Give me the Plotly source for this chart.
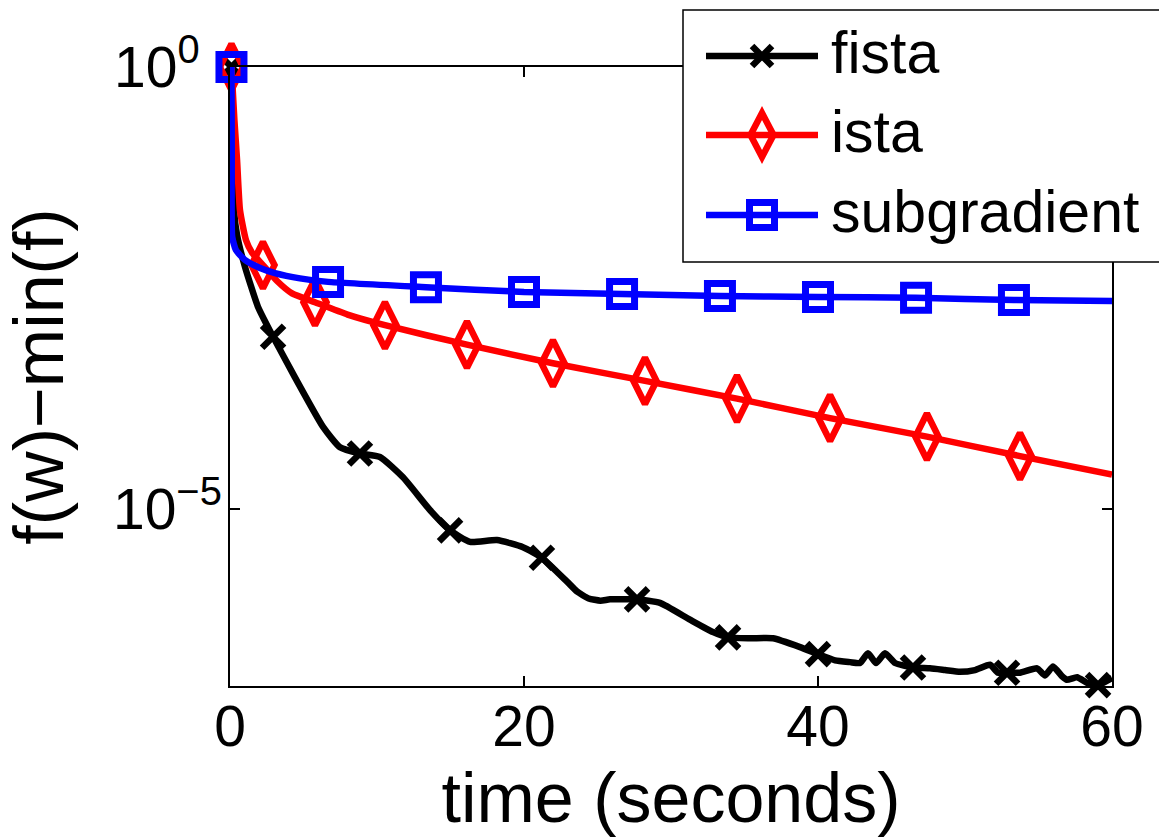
import numpy as np
import plotly.graph_objects as go

# ---------------- data (time in seconds, values as log10 of f(w)-min(f)) ----------------
fista_t = [0.1, 0.2, 0.27, 0.48, 1.02, 1.90, 2.93, 4.42, 6.33, 7.48, 8.84, 10.2, 11.77, 13.6,
           14.97, 16.33, 18.16, 19.93, 21.22, 22.93, 23.6, 24.4, 25.2, 25.85, 27.69, 29.25,
           31.29, 32.86, 33.88, 35.37, 36.94, 38.78, 40.0, 41.16, 42.18, 42.86, 43.40, 43.95,
           44.56, 45.24, 46.46, 47.62, 48.64, 49.66, 50.68, 51.70, 52.24, 52.86, 53.74, 54.90,
           55.44, 55.99, 56.60, 56.94, 57.62, 58.37, 59.05, 60.0]
fista_log = [0.0, -1.0, -1.62, -1.90, -2.26, -2.71, -3.05, -3.51, -4.07, -4.30, -4.37, -4.41,
             -4.64, -5.01, -5.24, -5.37, -5.35, -5.43, -5.55, -5.82, -5.93, -6.01, -6.035, -6.02,
             -6.02, -6.06, -6.25, -6.39, -6.45, -6.46, -6.46, -6.56, -6.64, -6.71, -6.73, -6.74,
             -6.63, -6.74, -6.63, -6.74, -6.79, -6.80, -6.82, -6.84, -6.82, -6.76, -6.85, -6.85,
             -6.85, -6.80, -6.88, -6.78, -6.89, -6.93, -6.90, -6.97, -6.99, -6.91]
fista_mark_t = [0.1, 2.93, 8.84, 14.97, 21.22, 27.69, 33.88, 40.0, 46.46, 52.86, 59.05]
fista_mark_log = [0.0, -3.05, -4.37, -5.24, -5.55, -6.02, -6.45, -6.64, -6.79, -6.85, -6.99]

ista_t = [0.1, 0.3, 0.48, 0.68, 1.09, 1.5, 2.24, 3.2, 4.22, 5.78, 8.0, 10.54, 16.12, 21.97,
          28.23, 34.49, 40.82, 47.41, 53.74, 60.0]
ista_log = [0.0, -0.6, -1.05, -1.62, -1.96, -2.10, -2.24, -2.42, -2.56, -2.66, -2.80, -2.92,
            -3.14, -3.35, -3.55, -3.75, -3.97, -4.18, -4.40, -4.61]
ista_mark_t = [0.1, 2.24, 5.78, 10.54, 16.12, 21.97, 28.23, 34.49, 40.82, 47.41, 53.74]
ista_mark_log = [0.0, -2.24, -2.66, -2.92, -3.14, -3.35, -3.55, -3.75, -3.97, -4.18, -4.40]

sub_t = [0.1, 0.12, 0.15, 0.4, 1.0, 2.0, 3.06, 4.76, 6.67, 13.33, 20.0, 26.67, 33.33, 40.0,
         46.67, 53.33, 60.0]
sub_log = [0.0, -1.0, -1.92, -2.07, -2.18, -2.27, -2.33, -2.39, -2.43, -2.49, -2.544, -2.567,
           -2.59, -2.60, -2.61, -2.635, -2.646]
sub_mark_t = [0.1, 6.67, 13.33, 20.0, 26.67, 33.33, 40.0, 46.67, 53.33]
sub_mark_log = [0.0, -2.43, -2.49, -2.544, -2.567, -2.59, -2.60, -2.61, -2.635]

series_names = ["fista", "ista", "subgradient"]
x_tick_vals = [0, 20, 40, 60]
y_tick_vals = [1.0, 1e-5]
y_tick_text = ["10<sup>0\u00a0\u00a0</sup>", "10<sup>\u22125</sup>"]
x_title = "time (seconds)"
y_title = "f(w)\u2212min(f)"

# ---------------- figure ----------------
FONT = "Liberation Sans, Arial, Helvetica, sans-serif"
BLACK, RED, BLUE = "#000000", "#ff0000", "#0000ff"
W, H = 1159, 837
ML, MR, MT, MB = 230, 47, 67, 151
LW = 6.5

fig = go.Figure()

def pw(v):
    return 10 ** np.array(v, dtype=float)

fig.add_trace(go.Scatter(x=fista_t, y=pw(fista_log), mode="lines", name=series_names[0],
                         line=dict(color=BLACK, width=LW, shape="spline", smoothing=0.5),
                         showlegend=False, cliponaxis=False))
fig.add_trace(go.Scatter(x=fista_mark_t, y=pw(fista_mark_log), mode="markers", name=series_names[0],
                         marker=dict(symbol="x-thin", size=22, line=dict(color=BLACK, width=6.5)),
                         showlegend=False, cliponaxis=False))
fig.add_trace(go.Scatter(x=ista_t, y=pw(ista_log), mode="lines", name=series_names[1],
                         line=dict(color=RED, width=LW, shape="spline", smoothing=0.5),
                         showlegend=False, cliponaxis=False))
fig.add_trace(go.Scatter(x=ista_mark_t, y=pw(ista_mark_log), mode="markers", name=series_names[1],
                         marker=dict(symbol="diamond-tall-open", size=33, color=RED,
                                     line=dict(color=RED, width=6.5)),
                         showlegend=False, cliponaxis=False))
fig.add_trace(go.Scatter(x=sub_t, y=pw(sub_log), mode="lines", name=series_names[2],
                         line=dict(color=BLUE, width=LW, shape="spline", smoothing=0.5),
                         showlegend=False, cliponaxis=False))
fig.add_trace(go.Scatter(x=sub_mark_t, y=pw(sub_mark_log), mode="markers", name=series_names[2],
                         marker=dict(symbol="square-open", size=25, color=BLUE,
                                     line=dict(color=BLUE, width=7)),
                         showlegend=False, cliponaxis=False))

axis_common = dict(showline=True, linecolor=BLACK, linewidth=1.5, mirror="ticks",
                   ticks="inside", ticklen=10, tickwidth=1.5, tickcolor=BLACK,
                   showgrid=False, zeroline=False,
                   tickfont=dict(family=FONT, size=57, color=BLACK))

fig.update_xaxes(range=[0, 60], tickvals=x_tick_vals, ticklabelstandoff=-10,
                 title=dict(text=x_title, font=dict(family=FONT, size=70, color=BLACK), standoff=30),
                 **axis_common)
fig.update_yaxes(type="log", range=[-7, 0], tickvals=y_tick_vals, ticktext=y_tick_text,
                 ticklabelstandoff=-5,
                 title=dict(text=y_title, font=dict(family=FONT, size=70, color=BLACK), standoff=28),
                 **axis_common)

# ---------------- custom legend (layout shapes + text) ----------------
pw_w = W - ML - MR
pw_h = H - MT - MB

def px_x(px):
    return (px - ML) / pw_w

def px_y(py):
    return (H - MB - py) / pw_h

shapes = [dict(type="rect", xref="paper", yref="paper", x0=px_x(683), x1=px_x(1180),
               y0=px_y(262), y1=px_y(10), line=dict(color=BLACK, width=1.5),
               fillcolor="white", layer="above")]
annotations = []
rows = [56, 135, 215]
colors = [BLACK, RED, BLUE]
cx = px_x(762)
for name, row, col in zip(series_names, rows, colors):
    yy = px_y(row)
    shapes.append(dict(type="line", xref="paper", yref="paper", x0=px_x(706), x1=px_x(818),
                       y0=yy, y1=yy, line=dict(color=col, width=LW), layer="above"))
    annotations.append(dict(text=name, xref="paper", yref="paper", x=px_x(829), y=px_y(row - 3),
                            xanchor="left", yanchor="middle", showarrow=False,
                            font=dict(family=FONT, size=59, color=BLACK)))
shapes.append(dict(type="path", xref="paper", yref="paper", xsizemode="pixel", ysizemode="pixel",
                   xanchor=cx, yanchor=px_y(rows[0]),
                   path="M-10,-10 L10,10 M-10,10 L10,-10", line=dict(color=BLACK, width=6.5),
                   layer="above"))
shapes.append(dict(type="path", xref="paper", yref="paper", xsizemode="pixel", ysizemode="pixel",
                   xanchor=cx, yanchor=px_y(rows[1]),
                   path="M0,22 L11.5,0 L0,-22 L-11.5,0 Z", line=dict(color=RED, width=6.5),
                   fillcolor="rgba(0,0,0,0)", layer="above"))
shapes.append(dict(type="rect", xref="paper", yref="paper", xsizemode="pixel", ysizemode="pixel",
                   xanchor=cx, yanchor=px_y(rows[2]), x0=-12.5, x1=12.5, y0=-12.5, y1=12.5,
                   line=dict(color=BLUE, width=7), fillcolor="rgba(0,0,0,0)", layer="above"))

fig.update_layout(width=W, height=H, margin=dict(l=ML, r=MR, t=MT, b=MB, autoexpand=False),
                  paper_bgcolor="white", plot_bgcolor="white", showlegend=False,
                  shapes=shapes, annotations=annotations,
                  font=dict(family=FONT, color=BLACK))

fig.write_html("out.html", config={"displayModeBar": False},
               post_script="document.body.style.margin='0px';")
